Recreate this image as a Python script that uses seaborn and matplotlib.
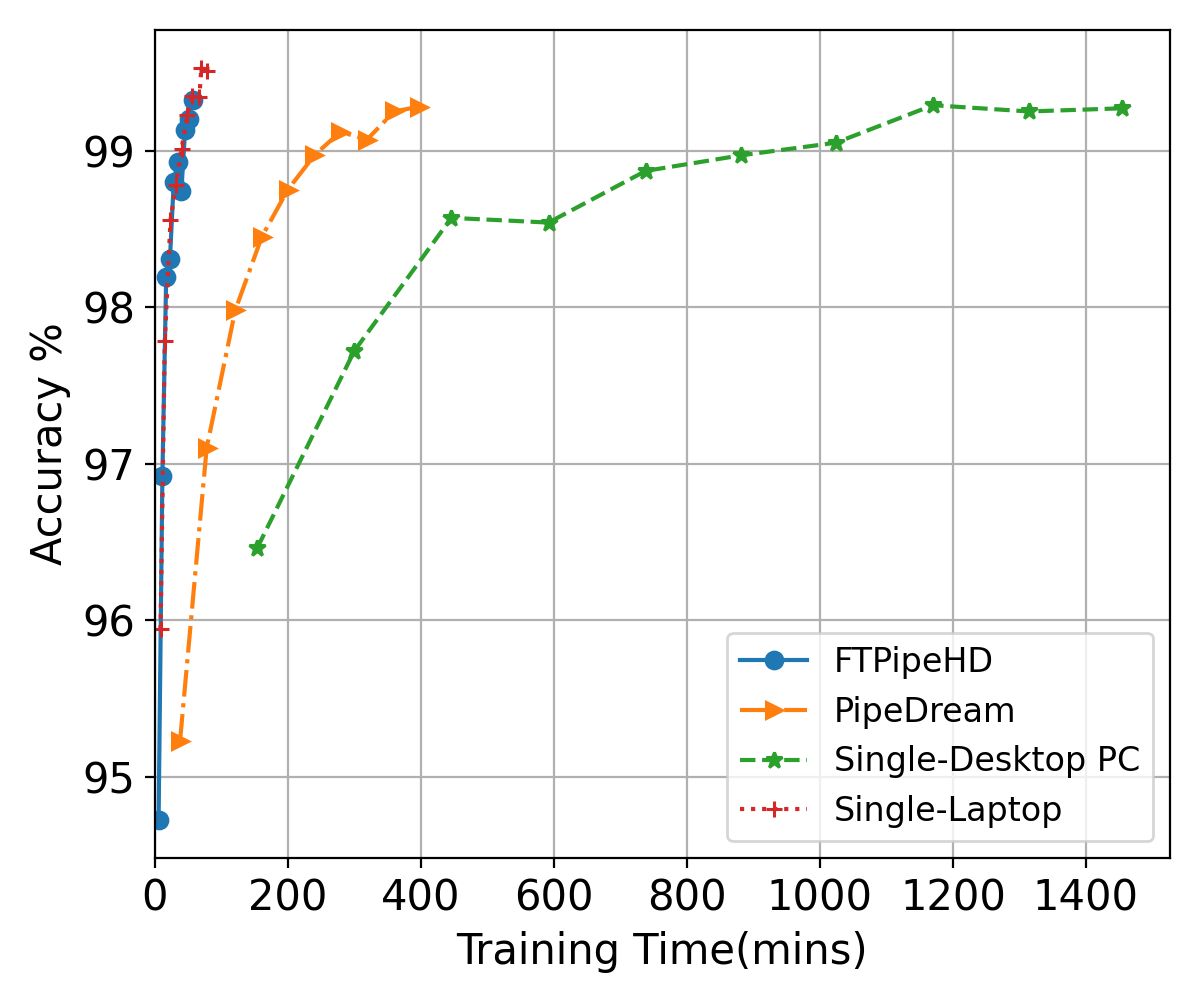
import pandas as pd
import matplotlib
matplotlib.use("Agg")
import matplotlib.pyplot as plt
import seaborn as sns

# training time (mins) vs accuracy for each setup
ftpipehd_time = [5.7, 11.4, 17.1, 22.8, 28.5, 34.2, 39.9, 45.6, 51.3, 57.0]
ftpipehd_acc = [94.72, 96.92, 98.19, 98.31, 98.80, 98.93, 98.74, 99.13, 99.20, 99.32]

pipedream_time = [38, 78, 121, 161, 200, 240, 279, 319, 360, 397]
pipedream_acc = [95.23, 97.10, 97.98, 98.45, 98.75, 98.97, 99.12, 99.07, 99.25, 99.28]

desktop_time = [154, 300, 446, 592, 738, 882, 1024, 1170, 1314, 1454]
desktop_acc = [96.46, 97.72, 98.57, 98.54, 98.87, 98.97, 99.05, 99.29, 99.25, 99.27]

laptop_time = [8.6, 15, 23.6, 31.6, 40.2, 49, 56.5, 67, 70, 79]
laptop_acc = [95.94, 97.78, 98.555, 98.78, 99.01, 99.23, 99.35, 99.34, 99.53, 99.51]

series = [
    ("FTPipeHD", ftpipehd_time, ftpipehd_acc, "o", "-", "C0"),
    ("PipeDream", pipedream_time, pipedream_acc, ">", "-.", "C1"),
    ("Single-Desktop PC", desktop_time, desktop_acc, "*", "--", "C2"),
    ("Single-Laptop", laptop_time, laptop_acc, "+", ":", "C3"),
]

fig, ax = plt.subplots(figsize=(6, 5), dpi=200)
for name, t, acc, mk, ls, col in series:
    df = pd.DataFrame({"time": t, "acc": acc})
    sns.lineplot(data=df, x="time", y="acc", marker=mk, linestyle=ls, color=col,
                 label=name, estimator=None, sort=False, ax=ax,
                 markersize=6, markeredgecolor=col, markeredgewidth=1.1,
                 linewidth=1.5)

ax.set_xlim(left=0)
ax.grid(True)
ax.set_xlabel("Training Time(mins)", fontsize=15)
ax.set_ylabel("Accuracy %", fontsize=15)
ax.tick_params(labelsize=15)
ax.legend(loc="lower right", fontsize=12)
fig.subplots_adjust(left=0.129, right=0.975, top=0.970, bottom=0.142)
fig.savefig("out.png")
